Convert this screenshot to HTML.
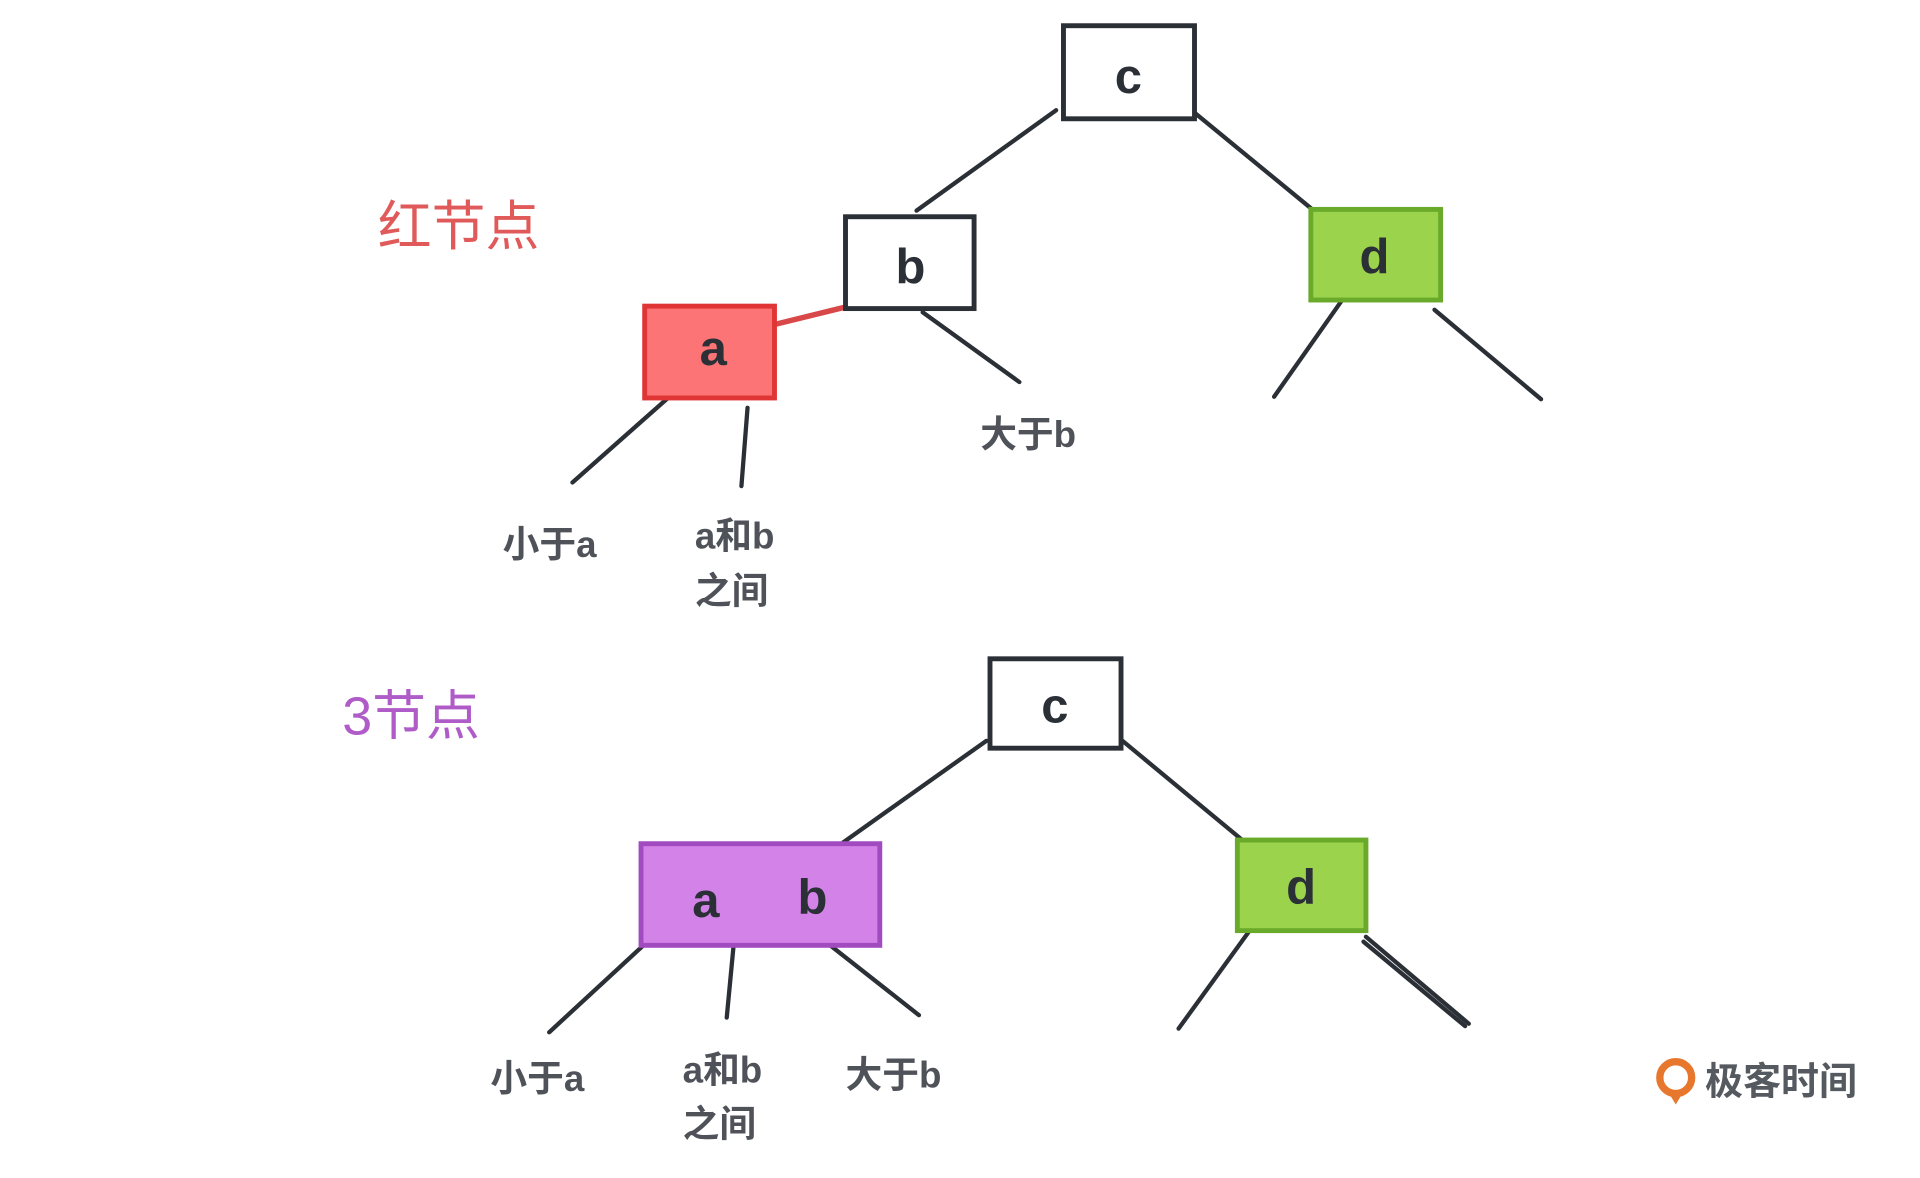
<!DOCTYPE html>
<html><head><meta charset="utf-8"><style>
html,body{margin:0;padding:0;background:#fff;width:1920px;height:1178px;overflow:hidden}
text{font-family:"Liberation Sans","Noto Sans CJK SC",sans-serif}
.l{font-size:40px;font-weight:bold;fill:#2b2f36;text-anchor:middle}
.t{font-size:30px;fill:#4f5359;font-weight:bold}
</style></head><body>
<svg width="1920" height="1178" viewBox="0 0 1567 962" xmlns="http://www.w3.org/2000/svg">
<g stroke="#2b2f36" stroke-width="3.5" fill="none" stroke-linecap="round">
<line x1="862" y1="90" x2="748" y2="172"/>
<line x1="975" y1="92" x2="1070" y2="170"/>
<line x1="753" y1="255" x2="832" y2="312"/>
<line x1="545" y1="325" x2="467" y2="394"/>
<line x1="610" y1="333" x2="605" y2="397"/>
<line x1="1097" y1="243" x2="1040" y2="324"/>
<line x1="1171" y1="253" x2="1258" y2="326"/>
<line x1="805" y1="605" x2="688" y2="688"/>
<line x1="915" y1="604" x2="1014" y2="686"/>
<line x1="525" y1="772" x2="448" y2="843"/>
<line x1="599" y1="768" x2="593" y2="831"/>
<line x1="675" y1="770" x2="750" y2="829"/>
<line x1="1020" y1="760" x2="962" y2="840"/>
<line x1="1115" y1="765" x2="1199" y2="836"/>
<line x1="1113" y1="769" x2="1196" y2="838"/>
</g>
<line x1="632" y1="265" x2="697" y2="249" stroke="#d94848" stroke-width="4.5"/>
<rect x="868" y="21" width="107" height="76" fill="#fff" stroke="#2b2f36" stroke-width="4"/>
<rect x="690" y="177" width="105" height="75" fill="#fff" stroke="#2b2f36" stroke-width="4"/>
<rect x="1070" y="171" width="106" height="74" fill="#9bd34c" stroke="#6aaa2a" stroke-width="4"/>
<rect x="526" y="250" width="106" height="75" fill="#fc7475" stroke="#e03535" stroke-width="4"/>
<rect x="808" y="538" width="107" height="73" fill="#fff" stroke="#2b2f36" stroke-width="4"/>
<rect x="523" y="689" width="195" height="83" fill="#d382e8" stroke="#a24bc0" stroke-width="4"/>
<rect x="1010" y="686" width="105" height="74" fill="#9bd34c" stroke="#6aaa2a" stroke-width="4"/>
<text class="l" x="921" y="76">c</text>
<text class="l" x="743" y="231">b</text>
<text class="l" x="1122" y="223">d</text>
<text class="l" x="582" y="298">a</text>
<text class="l" x="861" y="590">c</text>
<text class="l" x="576" y="749">a</text>
<text class="l" x="663" y="746">b</text>
<text class="l" x="1062" y="738">d</text>
<text x="308" y="200" font-size="44" fill="#e05a5a">红节点</text>
<text x="279" y="600" font-size="44" fill="#b05cc8">3节点</text>
<text class="t" x="800" y="365">大于b</text>
<text class="t" x="410" y="455">小于a</text>
<text class="t" x="567" y="448">a和b</text>
<text class="t" x="567" y="493">之间</text>
<text class="t" x="400" y="891">小于a</text>
<text class="t" x="557" y="884">a和b</text>
<text class="t" x="557" y="928">之间</text>
<text class="t" x="690" y="888">大于b</text>
<circle cx="1368" cy="880" r="13" fill="none" stroke="#e8772e" stroke-width="6"/>
<path d="M1362 892 L1368 902 L1374 892 Z" fill="#e8772e"/>
<text x="1392" y="894" font-size="31" fill="#555a60" font-weight="bold">极客时间</text>
</svg>
</body></html>
